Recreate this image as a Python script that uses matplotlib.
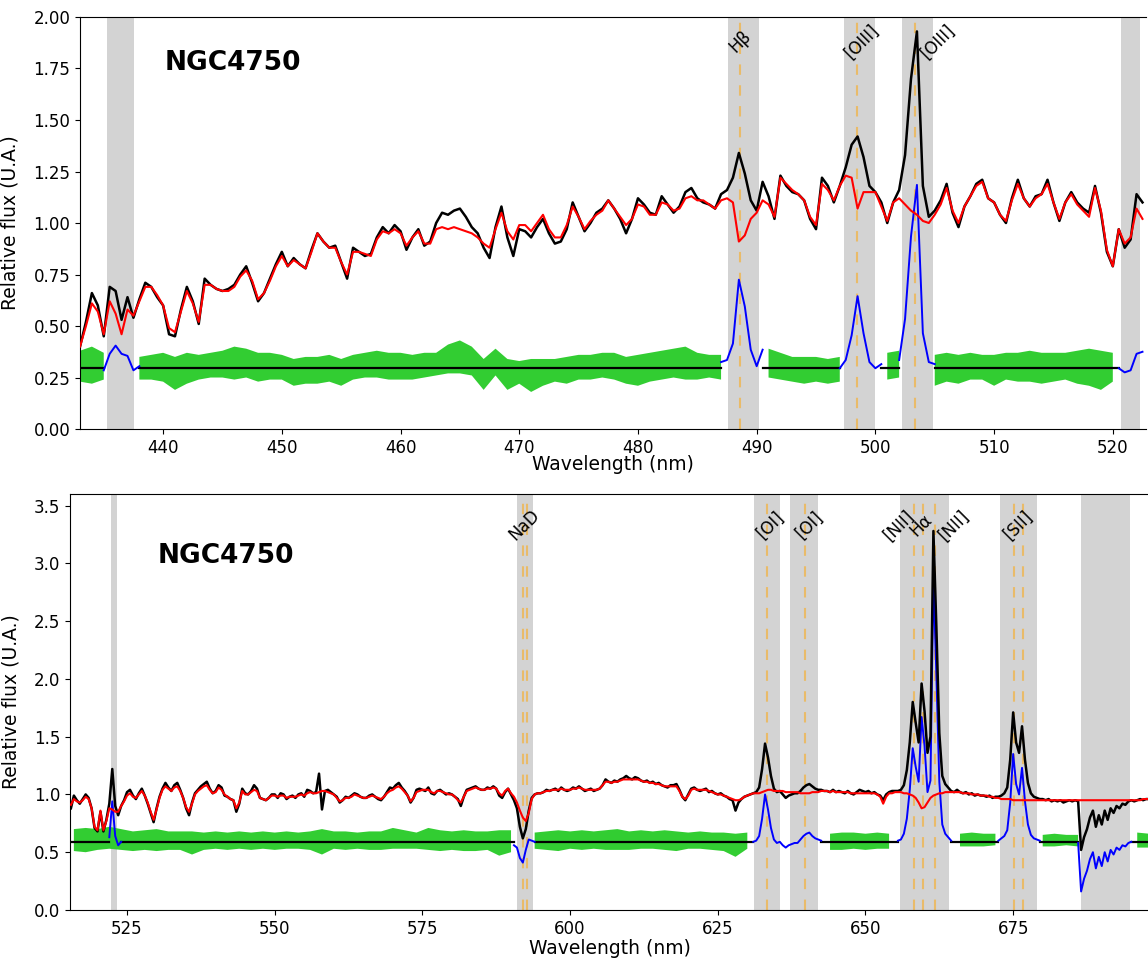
import numpy as np
import matplotlib.pyplot as plt

# ---------------- top panel (blue arm), 0.5 nm steps from 433.0 nm ----------------
obs_top = [
    0.40, 0.52, 0.66, 0.60, 0.45, 0.69, 0.67, 0.53, 0.64, 0.54,
    0.63, 0.71, 0.69, 0.64, 0.60, 0.46, 0.45, 0.58, 0.69, 0.62,
    0.51, 0.73, 0.70, 0.68, 0.67, 0.68, 0.70, 0.75, 0.79, 0.71,
    0.62, 0.66, 0.73, 0.80, 0.86, 0.79, 0.83, 0.80, 0.78, 0.87,
    0.95, 0.91, 0.88, 0.89, 0.81, 0.73, 0.88, 0.86, 0.84, 0.85,
    0.93, 0.98, 0.95, 0.99, 0.96, 0.87, 0.93, 0.97, 0.89, 0.91,
    1.00, 1.05, 1.04, 1.06, 1.07, 1.03, 0.98, 0.95, 0.88, 0.83,
    0.98, 1.08, 0.93, 0.84, 0.97, 0.96, 0.93, 0.98, 1.02, 0.95,
    0.90, 0.91, 0.97, 1.10, 1.03, 0.96, 1.00, 1.05, 1.07, 1.11,
    1.07, 1.02, 0.95, 1.02, 1.12, 1.09, 1.05, 1.04, 1.13, 1.09,
    1.05, 1.08, 1.15, 1.17, 1.12, 1.10, 1.09, 1.07, 1.14, 1.16,
    1.22, 1.34, 1.24, 1.11, 1.06, 1.20, 1.13, 1.02, 1.23, 1.18,
    1.15, 1.14, 1.11, 1.02, 0.97, 1.22, 1.18, 1.10, 1.18, 1.27,
    1.38, 1.42, 1.32, 1.18, 1.15, 1.10, 1.00, 1.10, 1.16, 1.33,
    1.70, 1.93, 1.18, 1.03, 1.06, 1.11, 1.19, 1.05, 0.98, 1.08,
    1.13, 1.19, 1.21, 1.12, 1.10, 1.04, 1.00, 1.12, 1.21, 1.12,
    1.08, 1.13, 1.14, 1.21, 1.10, 1.01, 1.10, 1.15, 1.10, 1.07,
    1.05, 1.18, 1.05, 0.86, 0.79, 0.97, 0.88, 0.92, 1.14, 1.10,
]
model_top = [
    0.40, 0.50, 0.61, 0.57, 0.46, 0.62, 0.56, 0.46, 0.58, 0.55,
    0.62, 0.69, 0.69, 0.65, 0.60, 0.49, 0.47, 0.57, 0.67, 0.61,
    0.52, 0.70, 0.70, 0.68, 0.67, 0.67, 0.69, 0.74, 0.77, 0.72,
    0.63, 0.66, 0.72, 0.79, 0.84, 0.79, 0.82, 0.80, 0.78, 0.86,
    0.95, 0.91, 0.88, 0.88, 0.81, 0.75, 0.86, 0.86, 0.85, 0.84,
    0.92, 0.96, 0.95, 0.97, 0.95, 0.89, 0.93, 0.96, 0.90, 0.90,
    0.97, 0.98, 0.97, 0.98, 0.97, 0.96, 0.95, 0.93, 0.90, 0.88,
    0.97, 1.05, 0.96, 0.92, 0.99, 0.99, 0.96, 1.00, 1.04, 0.97,
    0.93, 0.93, 0.99, 1.08, 1.03, 0.97, 1.01, 1.04, 1.06, 1.11,
    1.07, 1.03, 0.99, 1.02, 1.09, 1.08, 1.04, 1.04, 1.10, 1.09,
    1.06, 1.07, 1.12, 1.13, 1.11, 1.11, 1.09, 1.07, 1.11, 1.12,
    1.10, 0.91, 0.94, 1.02, 1.05, 1.11, 1.09, 1.03, 1.22, 1.19,
    1.16, 1.14, 1.11, 1.03, 0.99, 1.19, 1.16, 1.11, 1.18, 1.23,
    1.22, 1.07, 1.15, 1.15, 1.15, 1.08, 1.01, 1.10, 1.12, 1.09,
    1.06, 1.04, 1.01, 1.00, 1.04, 1.09, 1.17, 1.06, 1.00, 1.08,
    1.13, 1.18, 1.20, 1.12, 1.10, 1.04, 1.01, 1.11, 1.19, 1.12,
    1.08, 1.12, 1.14, 1.19, 1.10, 1.02, 1.10, 1.14, 1.09, 1.06,
    1.03, 1.17, 1.06, 0.87, 0.79, 0.97, 0.90, 0.93, 1.07, 1.02,
]
# residual band (upper / lower edge), 1 nm steps from 433 nm
res_hi_top = [
    0.38, 0.40, 0.37, 0.36, 0.35, 0.35, 0.36, 0.37, 0.35, 0.37,
    0.36, 0.37, 0.38, 0.40, 0.39, 0.37, 0.37, 0.36, 0.34, 0.35,
    0.35, 0.36, 0.34, 0.36, 0.37, 0.38, 0.37, 0.37, 0.36, 0.37,
    0.37, 0.41, 0.43, 0.40, 0.34, 0.39, 0.34, 0.33, 0.34, 0.34,
    0.34, 0.35, 0.36, 0.36, 0.37, 0.37, 0.35, 0.36, 0.37, 0.38,
    0.39, 0.40, 0.37, 0.36, 0.36, 0.36, 0.36, 0.36, 0.39, 0.37,
    0.35, 0.35, 0.35, 0.34, 0.35, 0.35, 0.35, 0.35, 0.37, 0.38,
    0.37, 0.37, 0.36, 0.37, 0.36, 0.37, 0.36, 0.36, 0.37, 0.37,
    0.38, 0.37, 0.37, 0.37, 0.38, 0.39, 0.38, 0.37, 0.36, 0.36,
]
res_lo_top = [
    0.23, 0.22, 0.24, 0.25, 0.25, 0.24, 0.24, 0.23, 0.19, 0.22,
    0.24, 0.25, 0.25, 0.24, 0.25, 0.23, 0.24, 0.24, 0.21, 0.22,
    0.22, 0.23, 0.21, 0.24, 0.25, 0.25, 0.24, 0.24, 0.24, 0.25,
    0.26, 0.27, 0.27, 0.26, 0.19, 0.26, 0.19, 0.22, 0.18, 0.21,
    0.23, 0.22, 0.24, 0.24, 0.25, 0.24, 0.22, 0.21, 0.23, 0.24,
    0.25, 0.24, 0.24, 0.25, 0.24, 0.24, 0.24, 0.24, 0.25, 0.24,
    0.23, 0.22, 0.23, 0.22, 0.23, 0.23, 0.23, 0.23, 0.24, 0.25,
    0.24, 0.22, 0.21, 0.23, 0.22, 0.24, 0.24, 0.21, 0.24, 0.23,
    0.23, 0.22, 0.23, 0.24, 0.22, 0.21, 0.19, 0.23, 0.24, 0.24,
]
fit_mask_top = [(435.3, 437.5), (487.5, 490.2), (497.3, 500.0), (502.1, 504.8), (520.6, 522.5)]
bands_top = [(435.25, 437.55), (487.55, 490.2), (497.35, 499.95), (502.2, 504.85), (520.7, 522.25)]
lines_top = [488.6, 498.45, 503.3]
labels_top = ['H\u03b2', '[OIII]', '[OIII]']
label_x_top = [488.6, 498.9, 505.3]

# ---------------- bottom panel (red arm), 0.5 nm steps from 515.5 nm ----------------
obs_bot = [
    0.88, 0.99, 0.95, 0.92, 0.96, 1.00, 0.97, 0.88, 0.71, 0.68,
    0.85, 0.68, 0.78, 0.92, 1.22, 0.90, 0.82, 0.90, 0.95, 1.02,
    1.04, 0.99, 0.96, 1.01, 1.05, 0.99, 0.92, 0.84, 0.76, 0.88,
    0.98, 1.05, 1.10, 1.06, 1.03, 1.08, 1.10, 1.04, 0.97, 0.88,
    0.82, 0.93, 1.01, 1.04, 1.07, 1.09, 1.11, 1.05, 1.01, 1.03,
    1.08, 1.06, 0.99, 0.98, 0.96, 0.95, 0.85, 0.92, 1.05, 1.01,
    1.00, 1.03, 1.08, 1.05, 0.97, 0.96, 0.95, 0.97, 1.00, 1.00,
    0.97, 1.01, 1.00, 0.96, 0.98, 0.99, 0.97, 1.00, 1.01, 0.98,
    1.04, 1.03, 1.01, 1.02, 1.18, 0.87, 1.03, 1.04, 1.02, 1.00,
    0.98, 0.93, 0.95, 0.98, 0.97, 0.99, 1.01, 1.00, 0.98, 0.97,
    0.97, 0.99, 1.00, 0.98, 0.96, 0.95, 0.98, 1.02, 1.06, 1.05,
    1.08, 1.10, 1.06, 1.03, 0.99, 0.93, 0.97, 1.04, 1.05, 1.04,
    1.03, 1.06, 1.01, 1.00, 1.03, 1.04, 1.02, 1.00, 1.01, 1.00,
    0.98, 0.96, 0.90, 0.98, 1.04, 1.05, 1.06, 1.07, 1.05, 1.04,
    1.04, 1.06, 1.05, 1.07, 1.05, 0.99, 0.97, 1.02, 1.05, 1.00,
    0.95, 0.88, 0.72, 0.62, 0.70, 0.86, 0.97, 1.00, 1.01, 1.01,
    1.02, 1.04, 1.03, 1.04, 1.05, 1.03, 1.06, 1.04, 1.03, 1.04,
    1.06, 1.05, 1.07, 1.05, 1.03, 1.04, 1.05, 1.03, 1.04, 1.05,
    1.08, 1.13, 1.11, 1.10, 1.12, 1.11, 1.13, 1.14, 1.16, 1.14,
    1.13, 1.15, 1.14, 1.12, 1.11, 1.12, 1.10, 1.11, 1.09, 1.10,
    1.08, 1.07, 1.06, 1.08, 1.08, 1.09, 1.04, 0.98, 0.95, 1.00,
    1.05, 1.06, 1.04, 1.03, 1.04, 1.05, 1.02, 1.03, 1.01, 1.00,
    1.01, 0.99, 0.98, 0.96, 0.95, 0.86, 0.93, 0.96, 0.98, 0.99,
    1.00, 1.01, 1.02, 1.06, 1.22, 1.44, 1.32, 1.16, 1.05, 1.02,
    1.03, 1.00, 0.97, 0.99, 1.00, 1.01, 1.01, 1.03, 1.06, 1.08,
    1.09, 1.07, 1.05, 1.04, 1.04, 1.03, 1.03, 1.02, 1.04, 1.02,
    1.03, 1.02, 1.01, 1.03, 1.01, 1.00, 1.02, 1.04, 1.03, 1.02,
    1.03, 1.01, 1.02, 1.00, 0.99, 0.95, 1.00, 1.02, 1.03, 1.03,
    1.03, 1.04, 1.08, 1.21, 1.45, 1.80, 1.62, 1.45, 1.96, 1.72,
    1.36, 1.50, 3.28, 2.45, 1.53, 1.16, 1.09, 1.06, 1.03, 1.02,
    1.04, 1.02, 1.01, 1.02, 1.00, 1.01, 0.99, 1.00, 0.99, 0.99,
    0.98, 0.99, 0.97, 0.98, 0.98, 0.99, 1.01, 1.06, 1.30, 1.71,
    1.45, 1.36, 1.59, 1.30, 1.10, 1.01, 0.98, 0.97, 0.96, 0.96,
    0.95, 0.96, 0.94, 0.95, 0.94, 0.95, 0.93, 0.94, 0.95, 0.94,
    0.95, 0.94, 0.52, 0.63, 0.70, 0.80, 0.86, 0.72, 0.82, 0.74,
    0.86, 0.78, 0.88, 0.84, 0.90, 0.88, 0.92, 0.91, 0.94, 0.95,
    0.94, 0.95, 0.96, 0.95, 0.96, 0.96,
]
model_bot = [
    0.91, 0.96, 0.94, 0.93, 0.95, 0.98, 0.96, 0.88, 0.72, 0.69,
    0.86, 0.69, 0.77, 0.88, 0.87, 0.85, 0.85, 0.90, 0.94, 0.99,
    1.01, 0.98, 0.97, 1.00, 1.03, 0.99, 0.93, 0.85, 0.78, 0.87,
    0.97, 1.04, 1.07, 1.05, 1.03, 1.06, 1.07, 1.03, 0.97, 0.89,
    0.85, 0.92, 1.00, 1.03, 1.05, 1.07, 1.08, 1.04, 1.01, 1.02,
    1.06, 1.04, 1.00, 0.98, 0.96, 0.95, 0.88, 0.93, 1.03, 1.00,
    1.00, 1.02, 1.04, 1.03, 0.97, 0.96, 0.95, 0.97, 0.99, 0.99,
    0.98, 0.99, 0.99, 0.97, 0.98, 0.98, 0.98, 0.99, 1.00, 0.99,
    1.01, 1.02, 1.01, 1.01, 1.02, 1.03, 1.03, 1.02, 1.01, 1.00,
    0.97, 0.94, 0.95, 0.97, 0.97, 0.98, 1.00, 0.99, 0.98, 0.97,
    0.97, 0.98, 0.99, 0.98, 0.97, 0.96, 0.98, 1.01, 1.03, 1.04,
    1.06, 1.07, 1.05, 1.02, 0.99, 0.94, 0.97, 1.02, 1.03, 1.04,
    1.04, 1.04, 1.02, 1.01, 1.03, 1.03, 1.02, 1.01, 1.00, 1.00,
    0.98, 0.95, 0.93, 0.98, 1.03, 1.04, 1.05, 1.06, 1.05, 1.04,
    1.04, 1.05, 1.05, 1.06, 1.05, 1.01, 0.99, 1.03, 1.05, 1.01,
    0.98, 0.93, 0.86, 0.80, 0.77, 0.84, 0.96, 1.00, 1.01, 1.01,
    1.02, 1.03, 1.03, 1.04, 1.04, 1.04, 1.05, 1.04, 1.04, 1.04,
    1.05, 1.05, 1.06, 1.05, 1.04, 1.04, 1.04, 1.04, 1.04, 1.05,
    1.08, 1.11, 1.11, 1.10, 1.11, 1.11, 1.12, 1.13, 1.13, 1.13,
    1.13, 1.13, 1.13, 1.12, 1.11, 1.11, 1.10, 1.10, 1.09, 1.09,
    1.08, 1.07, 1.07, 1.07, 1.07, 1.07, 1.03, 0.98, 0.96, 0.99,
    1.04, 1.05, 1.04, 1.04, 1.04, 1.04, 1.03, 1.02, 1.01, 1.00,
    1.00, 0.99, 0.98, 0.97, 0.96, 0.95, 0.95, 0.96, 0.98, 0.99,
    1.00, 1.01, 1.01, 1.01, 1.02, 1.03, 1.04, 1.04, 1.03, 1.03,
    1.03, 1.03, 1.02, 1.02, 1.02, 1.02, 1.02, 1.01, 1.01, 1.01,
    1.01, 1.02, 1.02, 1.02, 1.03, 1.03, 1.03, 1.02, 1.03, 1.02,
    1.02, 1.02, 1.02, 1.02, 1.01, 1.01, 1.01, 1.01, 1.01, 1.01,
    1.01, 1.01, 1.01, 1.00, 0.98, 0.92, 0.98, 1.01, 1.01, 1.02,
    1.02, 1.02, 1.01, 1.01, 1.00, 0.99, 0.97, 0.93, 0.88, 0.89,
    0.93, 0.97, 0.99, 1.00, 1.01, 1.01, 1.02, 1.02, 1.02, 1.02,
    1.02, 1.02, 1.01, 1.01, 1.01, 1.00, 1.00, 1.00, 0.99, 0.99,
    0.99, 0.98, 0.98, 0.97, 0.97, 0.96, 0.96, 0.96, 0.96, 0.95,
    0.95, 0.95, 0.95, 0.95, 0.95, 0.95, 0.95, 0.95, 0.95, 0.95,
    0.95, 0.95, 0.95, 0.95, 0.95, 0.95, 0.95, 0.95, 0.95, 0.95,
    0.95, 0.95, 0.95, 0.95, 0.95, 0.95, 0.95, 0.95, 0.95, 0.95,
    0.95, 0.95, 0.95, 0.95, 0.95, 0.95, 0.95, 0.95, 0.95, 0.95,
    0.95, 0.95, 0.95, 0.96, 0.96, 0.96,
]
# residual band, 2 nm steps from 516 nm
res_hi_bot = [
    0.70, 0.71, 0.70, 0.72, 0.70, 0.68, 0.69, 0.70, 0.68, 0.68,
    0.68, 0.67, 0.68, 0.67, 0.68, 0.67, 0.68, 0.67, 0.68, 0.67,
    0.68, 0.70, 0.68, 0.68, 0.67, 0.68, 0.68, 0.71, 0.69, 0.67,
    0.71, 0.69, 0.68, 0.69, 0.68, 0.68, 0.69, 0.69, 0.68, 0.67,
    0.68, 0.69, 0.68, 0.69, 0.68, 0.69, 0.70, 0.68, 0.69, 0.68,
    0.69, 0.68, 0.67, 0.68, 0.67, 0.67, 0.66, 0.67, 0.66, 0.65,
    0.65, 0.66, 0.66, 0.67, 0.66, 0.67, 0.67, 0.66, 0.67, 0.66,
    0.66, 0.66, 0.66, 0.66, 0.66, 0.66, 0.67, 0.66, 0.66, 0.66,
    0.66, 0.66, 0.65, 0.66, 0.65, 0.65, 0.66, 0.65, 0.65, 0.66,
    0.67, 0.66,
]
res_lo_bot = [
    0.51, 0.50, 0.52, 0.53, 0.52, 0.51, 0.52, 0.51, 0.52, 0.52,
    0.48, 0.52, 0.53, 0.52, 0.53, 0.52, 0.53, 0.52, 0.53, 0.53,
    0.52, 0.48, 0.53, 0.52, 0.53, 0.52, 0.52, 0.53, 0.53, 0.53,
    0.52, 0.51, 0.52, 0.51, 0.51, 0.52, 0.47, 0.50, 0.52, 0.53,
    0.52, 0.51, 0.53, 0.52, 0.53, 0.52, 0.52, 0.52, 0.53, 0.53,
    0.52, 0.51, 0.53, 0.53, 0.52, 0.51, 0.46, 0.53, 0.54, 0.55,
    0.55, 0.53, 0.52, 0.53, 0.52, 0.52, 0.53, 0.52, 0.53, 0.53,
    0.55, 0.55, 0.55, 0.55, 0.55, 0.55, 0.55, 0.55, 0.56, 0.55,
    0.55, 0.55, 0.55, 0.55, 0.56, 0.55, 0.55, 0.55, 0.55, 0.55,
    0.54, 0.54,
]
fit_mask_bot = [(522.3, 523.5), (591.0, 593.7), (631.1, 642.0), (655.8, 664.3),
                (672.7, 679.0), (686.5, 694.8)]
bands_bot = [(522.3, 523.3), (591.0, 593.7), (631.1, 635.5), (637.3, 642.0),
             (655.8, 664.2), (672.7, 679.0), (686.5, 694.8)]
lines_bot = [592.1, 592.7, 633.3, 639.7, 658.2, 659.75, 661.8, 675.1, 676.6]
labels_bot = ['NaD', '[OI]', '[OI]', '[NII]', 'H\u03b1', '[NII]', '[SII]']
label_x_bot = [592.2, 633.85, 640.5, 655.7, 659.4, 665.0, 675.8]


def draw_panel(ax, wl, obs, model, gwl, ghi, glo, offset, fit_mask, bands, lines):
    wl = np.asarray(wl)
    obs = np.asarray(obs)
    model = np.asarray(model)
    mask = np.zeros(len(wl), bool)
    for a, b in fit_mask:
        mask |= (wl >= a) & (wl <= b)
    gmask = np.zeros(len(gwl), bool)
    for a, b in fit_mask:
        gmask |= (gwl >= a) & (gwl <= b)
    edge = mask | np.r_[mask[1:], False] | np.r_[False, mask[:-1]]
    resid = obs - model + offset

    for a, b in bands:
        ax.axvspan(a, b, color='lightgray', lw=0, zorder=0)
    for x in lines:
        ax.axvline(x, color='orange', alpha=0.5, lw=1.5, ls=(0, (5, 5)), zorder=1)
    ax.fill_between(gwl, glo, ghi, where=~gmask, color='limegreen', lw=0, zorder=2)
    ax.plot(wl, np.where(mask, np.nan, offset), color='black', lw=1.6, zorder=3)
    ax.plot(wl, np.where(edge, resid, np.nan), color='blue', lw=1.4, zorder=4)
    ax.plot(wl, obs, color='black', lw=1.8, zorder=5)
    ax.plot(wl, model, color='red', lw=1.5, zorder=6)


fig = plt.figure(figsize=(11.48, 9.6), dpi=100)
ax1 = fig.add_axes((0.0697, 0.5531, 0.9286, 0.4292))
ax2 = fig.add_axes((0.0610, 0.0521, 0.9399, 0.4333))

wl_top = 433.0 + 0.5 * np.arange(len(obs_top))
gwl_top = 433.0 + 1.0 * np.arange(len(res_hi_top))
draw_panel(ax1, wl_top, obs_top, model_top, gwl_top, res_hi_top, res_lo_top,
           0.295, fit_mask_top, bands_top, lines_top)

wl_bot = 515.5 + 0.5 * np.arange(len(obs_bot))
gwl_bot = 516.0 + 2.0 * np.arange(len(res_hi_bot))
draw_panel(ax2, wl_bot, obs_bot, model_bot, gwl_bot, res_hi_bot, res_lo_bot,
           0.59, fit_mask_bot, bands_bot, lines_bot)

ax1.set_xlim(433.0, 522.8)
ax1.set_ylim(0, 2.0)
ax1.set_xticks(np.arange(440, 521, 10))
ax1.set_yticks(np.arange(0, 2.01, 0.25))
ax1.yaxis.set_major_formatter(plt.FormatStrFormatter('%.2f'))

ax2.set_xlim(515.35, 698.0)
ax2.set_ylim(0, 3.6)
ax2.set_xticks(np.arange(525, 676, 25))
ax2.set_yticks(np.arange(0, 3.51, 0.5))

for ax in (ax1, ax2):
    ax.spines['right'].set_visible(False)
    ax.tick_params(labelsize=12)
    ax.set_xlabel('Wavelength (nm)', fontsize=13.5)
    ax.set_ylabel('Relative flux (U.A.)', fontsize=13.5)

ax1.yaxis.set_label_coords(-0.0563, 0.5)
ax2.yaxis.set_label_coords(-0.0463, 0.5)
ax1.xaxis.set_label_coords(0.5, -0.064)
ax2.xaxis.set_label_coords(0.5, -0.070)

ax1.text(440.1, 1.743, 'NGC4750', fontsize=19, fontweight='bold', ha='left', va='baseline')
ax2.text(530.1, 3.007, 'NGC4750', fontsize=19, fontweight='bold', ha='left', va='baseline')

for x, lab in zip(label_x_top, labels_top):
    ax1.text(x, 1.88, lab, rotation=45, ha='center', va='center', fontsize=12)
for x, lab in zip(label_x_bot, labels_bot):
    ax2.text(x, 3.33, lab, rotation=45, ha='center', va='center', fontsize=12)

plt.savefig('out.png', dpi=100)
